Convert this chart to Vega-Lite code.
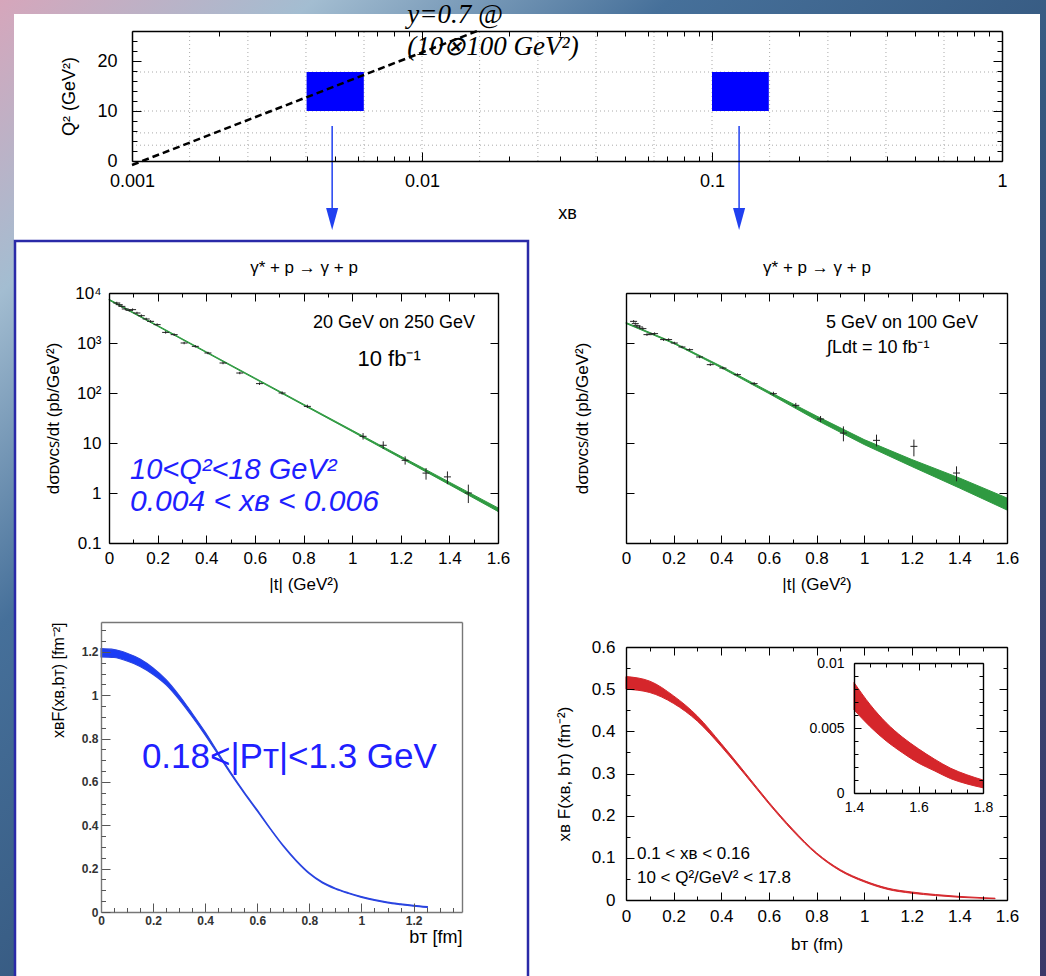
{
"$schema": "https://vega.github.io/schema/vega-lite/v6.json",
"width": 1046, "height": 976, "padding": 0, "autosize": {"type": "none"},
"background": "#3d6088",
"config": {"view": {"stroke": null},
 "axis": {"grid": false, "labelFlush": false, "labelOverlap": false, "labelBound": false,
  "labelFont": "Liberation Sans", "titleFont": "Liberation Sans", "titleFontWeight": "normal",
  "labelColor": "#000", "titleColor": "#000", "domainColor": "#000", "tickColor": "#000",
  "labelFontSize": 17, "titleFontSize": 17, "tickWidth": 1, "domainWidth": 1.4},
 "text": {"font": "Liberation Sans"}},
"datasets": {
 "one": [{}],
 "bg": [{"a": 0, "b": 1}],
 "top_gx": [{"g":0.00158},{"g":0.00251},{"g":0.00398},{"g":0.00631},{"g":0.01},{"g":0.0158},{"g":0.0251},{"g":0.0398},{"g":0.0631},{"g":0.1},{"g":0.158},{"g":0.251},{"g":0.398},{"g":0.631}],
 "top_gy": [{"g":3.16},{"g":5.62},{"g":10},{"g":17.8}],
 "top_bins": [{"x1":0.004,"x2":0.0063,"q1":10,"q2":17.8},{"x1":0.1,"x2":0.157,"q1":10,"q2":17.8}],
 "top_line": [{"xB":0.001,"Q2":-0.8},{"xB":0.0155,"Q2":26}],
 "top_arrows": [{"xB":0.0049},{"xB":0.124}],
 "ul_pts": [
  {"t":0.032,"v":6310,"lo":5960,"hi":6680},{"t":0.042,"v":5850,"lo":5520,"hi":6190},{"t":0.053,"v":5400,"lo":5100,"hi":5720},
  {"t":0.067,"v":4790,"lo":4520,"hi":5070},{"t":0.083,"v":4500,"lo":4250,"hi":4770},{"t":0.097,"v":4650,"lo":4390,"hi":4920},
  {"t":0.115,"v":3980,"lo":3760,"hi":4210},{"t":0.133,"v":3520,"lo":3320,"hi":3730},{"t":0.153,"v":3020,"lo":2850,"hi":3200},
  {"t":0.171,"v":2710,"lo":2560,"hi":2870},{"t":0.198,"v":2330,"lo":2200,"hi":2470},{"t":0.233,"v":1630,"lo":1540,"hi":1730},
  {"t":0.268,"v":1470,"lo":1390,"hi":1560},{"t":0.309,"v":1000,"lo":944,"hi":1060},{"t":0.355,"v":857,"lo":809,"hi":908},
  {"t":0.407,"v":631,"lo":596,"hi":668},{"t":0.469,"v":398,"lo":376,"hi":421},{"t":0.538,"v":251,"lo":237,"hi":266},
  {"t":0.619,"v":154,"lo":145,"hi":163},{"t":0.712,"v":100,"lo":93,"hi":108},{"t":0.816,"v":54,"lo":50,"hi":58.5},
  {"t":1.045,"v":13.6,"lo":11.7,"hi":15.8},{"t":1.128,"v":9.0,"lo":7.6,"hi":10.8},{"t":1.218,"v":4.5,"lo":3.7,"hi":5.4},
  {"t":1.304,"v":2.5,"lo":1.85,"hi":3.16},{"t":1.392,"v":2.1,"lo":1.5,"hi":2.7},{"t":1.478,"v":1.0,"lo":0.63,"hi":1.47}],
 "ul_band": [{"t":0,"lo":7200,"hi":7520},{"t":0.2,"lo":2160,"hi":2240},{"t":0.4,"lo":644,"hi":668},{"t":0.6,"lo":192,"hi":200},
  {"t":0.8,"lo":57.2,"hi":59.8},{"t":1.0,"lo":17.0,"hi":18.0},{"t":1.2,"lo":5.0,"hi":5.43},{"t":1.4,"lo":1.47,"hi":1.65},{"t":1.6,"lo":0.428,"hi":0.504}],
 "ur_pts": [
  {"t":0.032,"v":2710,"lo":2560,"hi":2870},{"t":0.039,"v":2440,"lo":2300,"hi":2580},{"t":0.046,"v":2220,"lo":2100,"hi":2350},
  {"t":0.057,"v":2090,"lo":1970,"hi":2210},{"t":0.071,"v":1940,"lo":1830,"hi":2050},{"t":0.088,"v":1470,"lo":1390,"hi":1560},
  {"t":0.105,"v":1510,"lo":1430,"hi":1600},{"t":0.12,"v":1540,"lo":1450,"hi":1630},{"t":0.158,"v":1170,"lo":1100,"hi":1240},
  {"t":0.179,"v":1170,"lo":1100,"hi":1240},{"t":0.203,"v":1000,"lo":944,"hi":1060},{"t":0.235,"v":832,"lo":785,"hi":881},
  {"t":0.267,"v":736,"lo":695,"hi":779},{"t":0.309,"v":525,"lo":496,"hi":556},{"t":0.354,"v":369,"lo":348,"hi":391},
  {"t":0.407,"v":316,"lo":298,"hi":335},{"t":0.468,"v":233,"lo":220,"hi":247},{"t":0.538,"v":154,"lo":143,"hi":166},
  {"t":0.619,"v":97,"lo":89,"hi":106},{"t":0.713,"v":56.6,"lo":50.5,"hi":63.4},{"t":0.817,"v":30.2,"lo":26.3,"hi":34.7},
  {"t":0.913,"v":15.8,"lo":10.8,"hi":21.5},{"t":1.052,"v":11.3,"lo":8.57,"hi":14.7},{"t":1.209,"v":8.57,"lo":5.41,"hi":11.7},
  {"t":1.388,"v":2.51,"lo":1.71,"hi":3.41}],
 "ur_band": [{"t":0,"lo":2455,"hi":2570},{"t":0.2,"lo":977,"hi":1023},{"t":0.4,"lo":320,"hi":343},{"t":0.6,"lo":97.7,"hi":107},
  {"t":0.8,"lo":28.8,"hi":34.7},{"t":1.0,"lo":9.33,"hi":11.7},{"t":1.2,"lo":3.39,"hi":4.68},{"t":1.4,"lo":1.26,"hi":2.0},{"t":1.6,"lo":0.457,"hi":0.794}],
 "ll_band": [{"b":0,"lo":1.177,"hi":1.215},{"b":0.05,"lo":1.174,"hi":1.211},{"b":0.1,"lo":1.158,"hi":1.194},{"b":0.15,"lo":1.133,"hi":1.167},
  {"b":0.2,"lo":1.096,"hi":1.126},{"b":0.25,"lo":1.048,"hi":1.072},{"b":0.3,"lo":0.98,"hi":1.0},{"b":0.35,"lo":0.901,"hi":0.917},
  {"b":0.4,"lo":0.816,"hi":0.83},{"b":0.45,"lo":0.725,"hi":0.735},{"b":0.5,"lo":0.633,"hi":0.641},{"b":0.55,"lo":0.547,"hi":0.553},
  {"b":0.6,"lo":0.465,"hi":0.471},{"b":0.65,"lo":0.382,"hi":0.386},{"b":0.7,"lo":0.303,"hi":0.307},{"b":0.75,"lo":0.234,"hi":0.238},
  {"b":0.8,"lo":0.176,"hi":0.18},{"b":0.85,"lo":0.134,"hi":0.138},{"b":0.9,"lo":0.106,"hi":0.11},{"b":0.95,"lo":0.085,"hi":0.089},
  {"b":1.0,"lo":0.067,"hi":0.071},{"b":1.05,"lo":0.053,"hi":0.057},{"b":1.1,"lo":0.042,"hi":0.046},{"b":1.15,"lo":0.034,"hi":0.038},
  {"b":1.2,"lo":0.027,"hi":0.031},{"b":1.253,"lo":0.021,"hi":0.025}],
 "lr_band": [{"b":0,"lo":0.5,"hi":0.53},{"b":0.1,"lo":0.492,"hi":0.519},{"b":0.2,"lo":0.466,"hi":0.484},{"b":0.3,"lo":0.424,"hi":0.436},
  {"b":0.4,"lo":0.364,"hi":0.371},{"b":0.5,"lo":0.297,"hi":0.302},{"b":0.6,"lo":0.228,"hi":0.232},{"b":0.7,"lo":0.164,"hi":0.168},
  {"b":0.8,"lo":0.109,"hi":0.112},{"b":0.9,"lo":0.069,"hi":0.072},{"b":1.0,"lo":0.043,"hi":0.046},{"b":1.1,"lo":0.025,"hi":0.028},
  {"b":1.2,"lo":0.016,"hi":0.019},{"b":1.3,"lo":0.0105,"hi":0.013},{"b":1.4,"lo":0.0064,"hi":0.0085},{"b":1.5,"lo":0.004,"hi":0.0054},{"b":1.55,"lo":0.0031,"hi":0.0043}],
 "in_band": [{"b":1.4,"lo":0.0064,"hi":0.0085},{"b":1.45,"lo":0.0051,"hi":0.0068},{"b":1.5,"lo":0.004,"hi":0.0054},{"b":1.55,"lo":0.0031,"hi":0.0043},
  {"b":1.6,"lo":0.0023,"hi":0.0034},{"b":1.65,"lo":0.0017,"hi":0.0026},{"b":1.7,"lo":0.0011,"hi":0.0019},{"b":1.75,"lo":0.0007,"hi":0.0014},{"b":1.8,"lo":0.0004,"hi":0.001}]
},
"resolve": {"scale": {"x": "independent", "y": "independent"}, "axis": {"x": "independent", "y": "independent"}},
"layer": [
 {"data": {"name": "bg"}, "mark": {"type": "rect", "color": {"gradient": "linear", "x1": 0, "y1": 0, "x2": 1, "y2": 1, "stops": [{"offset": 0, "color": "#d6a6bb"}, {"offset": 0.15, "color": "#a3bdd1"}, {"offset": 0.32, "color": "#46709a"}, {"offset": 0.55, "color": "#35587f"}, {"offset": 1, "color": "#3b3868"}]}},
  "encoding": {"x": {"field": "a", "type": "quantitative", "scale": {"domain": [0,1], "range": [0,1046], "nice": false, "zero": false}, "axis": null},
   "x2": {"field": "b"},
   "y": {"field": "a", "type": "quantitative", "scale": {"domain": [0,1], "range": [976,0], "nice": false, "zero": false}, "axis": null},
   "y2": {"field": "b"}}},
 {"data": {"name": "bg"}, "mark": {"type": "rect", "color": "#ffffff"},
  "encoding": {"x": {"field": "a", "type": "quantitative", "scale": {"domain": [0,1], "range": [14,1040], "nice": false, "zero": false}, "axis": null},
   "x2": {"field": "b"},
   "y": {"field": "a", "type": "quantitative", "scale": {"domain": [0,1], "range": [976,14], "nice": false, "zero": false}, "axis": null},
   "y2": {"field": "b"}}},
 {"data": {"name": "bg"}, "mark": {"type": "rect", "filled": false, "stroke": "#2a2aa8", "strokeWidth": 2.5},
  "encoding": {"x": {"field": "a", "type": "quantitative", "scale": {"domain": [0,1], "range": [15,528], "nice": false, "zero": false}, "axis": null},
   "x2": {"field": "b"},
   "y": {"field": "a", "type": "quantitative", "scale": {"domain": [0,1], "range": [978,241], "nice": false, "zero": false}, "axis": null},
   "y2": {"field": "b"}}},

 {"resolve": {"axis": {"x": "independent", "y": "independent"}},
  "layer": [
   {"data": {"name": "top_gx"}, "mark": {"type": "rule", "color": "#aaaaaa", "strokeDash": [1,3], "strokeWidth": 1},
    "encoding": {"x": {"field": "g", "type": "quantitative", "scale": {"type":"log","domain":[0.001,1],"range":[132,1002],"nice":false}, "axis": null},
     "y": {"datum": 0, "type": "quantitative", "scale": {"type":"linear","domain":[0,26],"range":[161,31],"nice":false,"zero":false}, "axis": null},
     "y2": {"datum": 26}}},
   {"data": {"name": "top_gy"}, "mark": {"type": "rule", "color": "#aaaaaa", "strokeDash": [1,3], "strokeWidth": 1},
    "encoding": {"y": {"field": "g", "type": "quantitative", "scale": {"type":"linear","domain":[0,26],"range":[161,31],"nice":false,"zero":false}, "axis": null},
     "x": {"datum": 0.001, "type": "quantitative", "scale": {"type":"log","domain":[0.001,1],"range":[132,1002],"nice":false}, "axis": null},
     "x2": {"datum": 1}}},
   {"data": {"name": "top_bins"}, "mark": {"type": "rect", "color": "#0000ff"},
    "encoding": {"x": {"field": "x1", "type": "quantitative", "scale": {"type":"log","domain":[0.001,1],"range":[132,1002],"nice":false}, "axis": null},
     "x2": {"field": "x2"},
     "y": {"field": "q1", "type": "quantitative", "scale": {"type":"linear","domain":[0,26],"range":[161,31],"nice":false,"zero":false}, "axis": null},
     "y2": {"field": "q2"}}},
   {"data": {"name": "top_line"}, "mark": {"type": "line", "color": "#000000", "strokeDash": [7,4], "strokeWidth": 2.5},
    "encoding": {"x": {"field": "xB", "type": "quantitative", "scale": {"type":"log","domain":[0.001,1],"range":[132,1002],"nice":false}, "axis": null},
     "y": {"field": "Q2", "type": "quantitative", "scale": {"type":"linear","domain":[0,26],"range":[161,31],"nice":false,"zero":false}, "axis": null}}},
   {"data": {"name": "top_arrows"}, "mark": {"type": "rule", "color": "#2040f0", "strokeWidth": 1.5},
    "encoding": {"x": {"field": "xB", "type": "quantitative", "scale": {"type":"log","domain":[0.001,1],"range":[132,1002],"nice":false}, "axis": null},
     "y": {"datum": 7, "type": "quantitative", "scale": {"type":"linear","domain":[0,26],"range":[161,31],"nice":false,"zero":false}, "axis": null},
     "y2": {"datum": -11}}},
   {"data": {"name": "top_arrows"}, "mark": {"type": "point", "shape": "M-0.55,-1L0.55,-1L0,1Z", "size": 484, "filled": true, "color": "#2040f0", "opacity": 1},
    "encoding": {"x": {"field": "xB", "type": "quantitative", "scale": {"type":"log","domain":[0.001,1],"range":[132,1002],"nice":false}, "axis": null},
     "y": {"datum": -11.6, "type": "quantitative", "scale": {"type":"linear","domain":[0,26],"range":[161,31],"nice":false,"zero":false}, "axis": null}}},
   {"data": {"name": "one"}, "mark": {"type": "text", "text": "y=0.7 @", "font": "Liberation Serif", "fontStyle": "italic", "fontSize": 27, "align": "left", "baseline": "middle", "color": "#000"},
    "encoding": {"x": {"datum": 0.0089, "type": "quantitative", "scale": {"type":"log","domain":[0.001,1],"range":[132,1002],"nice":false}, "axis": null},
     "y": {"datum": 29.3, "type": "quantitative", "scale": {"type":"linear","domain":[0,26],"range":[161,31],"nice":false,"zero":false}, "axis": null}}},
   {"data": {"name": "one"}, "mark": {"type": "text", "text": "(10⊗100 GeV²)", "font": "Liberation Serif", "fontStyle": "italic", "fontSize": 27, "align": "left", "baseline": "middle", "color": "#000"},
    "encoding": {"x": {"datum": 0.0089, "type": "quantitative", "scale": {"type":"log","domain":[0.001,1],"range":[132,1002],"nice":false}, "axis": null},
     "y": {"datum": 22.8, "type": "quantitative", "scale": {"type":"linear","domain":[0,26],"range":[161,31],"nice":false,"zero":false}, "axis": null}}},
   {"data": {"name": "one"}, "mark": {"type": "point", "opacity": 0},
    "encoding": {"x": {"datum": 0.001, "type": "quantitative", "scale": {"type":"log","domain":[0.001,1],"range":[132,1002],"nice":false},
      "axis": {"zindex": 1, "orient": "bottom", "offset": -815, "values": [0.001,0.01,0.1,1], "format": "~g", "tickSize": -9, "labelPadding": 20, "labelFontSize": 18, "title": "xʙ", "titleFontSize": 18, "titlePadding": 14, "domainWidth": 1.5}},
     "y": {"datum": 0, "type": "quantitative", "scale": {"type":"linear","domain":[0,26],"range":[161,31],"nice":false,"zero":false},
      "axis": {"zindex": 1, "orient": "left", "offset": -132, "values": [0,10,20], "tickSize": -9, "labelPadding": 24, "labelFontSize": 18, "title": "Q²   (GeV²)", "titleFontSize": 18, "titlePadding": 18, "domainWidth": 1.5}}}},
   {"data": {"name": "one"}, "mark": {"type": "point", "opacity": 0},
    "encoding": {"x": {"datum": 0.001, "type": "quantitative", "scale": {"type":"log","domain":[0.001,1],"range":[132,1002],"nice":false},
      "axis": {"zindex": 1, "orient": "top", "offset": -31, "values": [0.001,0.01,0.1,1], "labels": false, "tickSize": -9, "title": null, "domainWidth": 1.5}},
     "y": {"datum": 0, "type": "quantitative", "scale": {"type":"linear","domain":[0,26],"range":[161,31],"nice":false,"zero":false},
      "axis": {"zindex": 1, "orient": "right", "offset": -44, "values": [0,10,20], "labels": false, "tickSize": -9, "title": null, "domainWidth": 1.5}}}},
   {"data": {"name": "one"}, "mark": {"type": "point", "opacity": 0},
    "encoding": {"x": {"datum": 0.001, "type": "quantitative", "scale": {"type":"log","domain":[0.001,1],"range":[132,1002],"nice":false},
      "axis": {"zindex": 1, "orient": "bottom", "offset": -815, "values": [0.002,0.003,0.004,0.005,0.006,0.007,0.008,0.009,0.02,0.03,0.04,0.05,0.06,0.07,0.08,0.09,0.2,0.3,0.4,0.5,0.6,0.7,0.8,0.9], "labels": false, "domain": false, "tickSize": -5, "title": null}},
     "y": {"datum": 0, "type": "quantitative", "scale": {"type":"linear","domain":[0,26],"range":[161,31],"nice":false,"zero":false},
      "axis": {"zindex": 1, "orient": "left", "offset": -132, "values": [2,4,6,8,12,14,16,18,22,24], "labels": false, "domain": false, "tickSize": -5, "title": null}}}},
   {"data": {"name": "one"}, "mark": {"type": "point", "opacity": 0},
    "encoding": {"x": {"datum": 0.001, "type": "quantitative", "scale": {"type":"log","domain":[0.001,1],"range":[132,1002],"nice":false},
      "axis": {"zindex": 1, "orient": "top", "offset": -31, "values": [0.002,0.003,0.004,0.005,0.006,0.007,0.008,0.009,0.02,0.03,0.04,0.05,0.06,0.07,0.08,0.09,0.2,0.3,0.4,0.5,0.6,0.7,0.8,0.9], "labels": false, "domain": false, "tickSize": -5, "title": null}},
     "y": {"datum": 0, "type": "quantitative", "scale": {"type":"linear","domain":[0,26],"range":[161,31],"nice":false,"zero":false},
      "axis": {"zindex": 1, "orient": "right", "offset": -44, "values": [2,4,6,8,12,14,16,18,22,24], "labels": false, "domain": false, "tickSize": -5, "title": null}}}}
  ]},

 {"resolve": {"axis": {"x": "independent", "y": "independent"}},
  "layer": [
   {"data": {"name": "ul_band"}, "mark": {"type": "area", "color": "#2f9a41", "stroke": "#2f9a41", "strokeWidth": 1, "opacity": 1},
    "encoding": {"x": {"field": "t", "type": "quantitative", "scale": {"type":"linear","domain":[0,1.6],"range":[109,498],"nice":false,"zero":false}, "axis": null},
     "y": {"field": "lo", "type": "quantitative", "scale": {"type":"log","domain":[0.1,10000],"range":[543,293],"nice":false}, "axis": null},
     "y2": {"field": "hi"}}},
   {"data": {"name": "ul_pts"}, "mark": {"type": "rule", "color": "#222222", "strokeWidth": 1},
    "encoding": {"x": {"field": "t", "type": "quantitative", "scale": {"type":"linear","domain":[0,1.6],"range":[109,498],"nice":false,"zero":false}, "axis": null},
     "y": {"field": "lo", "type": "quantitative", "scale": {"type":"log","domain":[0.1,10000],"range":[543,293],"nice":false}, "axis": null},
     "y2": {"field": "hi"}}},
   {"data": {"name": "ul_pts"}, "mark": {"type": "point", "shape": "M-1,0L1,0", "size": 49, "filled": false, "color": "#222222", "strokeWidth": 1, "opacity": 1},
    "encoding": {"x": {"field": "t", "type": "quantitative", "scale": {"type":"linear","domain":[0,1.6],"range":[109,498],"nice":false,"zero":false}, "axis": null},
     "y": {"field": "v", "type": "quantitative", "scale": {"type":"log","domain":[0.1,10000],"range":[543,293],"nice":false}, "axis": null}}},
   {"data": {"name": "one"}, "mark": {"type": "text", "text": "γ* + p → γ + p", "fontSize": 17, "align": "center", "baseline": "middle", "color": "#000"},
    "encoding": {"x": {"datum": 0.802, "type": "quantitative", "scale": {"type":"linear","domain":[0,1.6],"range":[109,498],"nice":false,"zero":false}, "axis": null},
     "y": {"datum": 31623, "type": "quantitative", "scale": {"type":"log","domain":[0.1,10000],"range":[543,293],"nice":false}, "axis": null}}},
   {"data": {"name": "one"}, "mark": {"type": "text", "text": "20 GeV on 250 GeV", "fontSize": 18, "align": "center", "baseline": "middle", "color": "#000"},
    "encoding": {"x": {"datum": 1.172, "type": "quantitative", "scale": {"type":"linear","domain":[0,1.6],"range":[109,498],"nice":false,"zero":false}, "axis": null},
     "y": {"datum": 2512, "type": "quantitative", "scale": {"type":"log","domain":[0.1,10000],"range":[543,293],"nice":false}, "axis": null}}},
   {"data": {"name": "one"}, "mark": {"type": "text", "text": "10 fb⁻¹", "fontSize": 22, "align": "center", "baseline": "middle", "color": "#000"},
    "encoding": {"x": {"datum": 1.152, "type": "quantitative", "scale": {"type":"linear","domain":[0,1.6],"range":[109,498],"nice":false,"zero":false}, "axis": null},
     "y": {"datum": 479, "type": "quantitative", "scale": {"type":"log","domain":[0.1,10000],"range":[543,293],"nice":false}, "axis": null}}},
   {"data": {"name": "one"}, "mark": {"type": "text", "text": "10<Q²<18 GeV²", "fontSize": 29, "fontStyle": "italic", "align": "left", "baseline": "middle", "color": "#1f1fff"},
    "encoding": {"x": {"datum": 0.0864, "type": "quantitative", "scale": {"type":"linear","domain":[0,1.6],"range":[109,498],"nice":false,"zero":false}, "axis": null},
     "y": {"datum": 2.88, "type": "quantitative", "scale": {"type":"log","domain":[0.1,10000],"range":[543,293],"nice":false}, "axis": null}}},
   {"data": {"name": "one"}, "mark": {"type": "text", "text": "0.004 < xʙ < 0.006", "fontSize": 30, "fontStyle": "italic", "align": "left", "baseline": "middle", "color": "#1f1fff"},
    "encoding": {"x": {"datum": 0.0864, "type": "quantitative", "scale": {"type":"linear","domain":[0,1.6],"range":[109,498],"nice":false,"zero":false}, "axis": null},
     "y": {"datum": 0.66, "type": "quantitative", "scale": {"type":"log","domain":[0.1,10000],"range":[543,293],"nice":false}, "axis": null}}},
   {"data": {"name": "one"}, "mark": {"type": "point", "opacity": 0},
    "encoding": {"x": {"datum": 0, "type": "quantitative", "scale": {"type":"linear","domain":[0,1.6],"range":[109,498],"nice":false,"zero":false},
      "axis": {"zindex": 1, "orient": "bottom", "offset": -433, "values": [0,0.2,0.4,0.6,0.8,1,1.2,1.4,1.6], "format": "~g", "tickSize": -8, "labelPadding": 15, "title": "|t| (GeV²)", "titlePadding": 10}},
     "y": {"datum": 0.1, "type": "quantitative", "scale": {"type":"log","domain":[0.1,10000],"range":[543,293],"nice":false},
      "axis": {"zindex": 1, "orient": "left", "offset": -109, "values": [0.1,1,10,100,1000,10000], "labelExpr": "datum.value >= 9999 ? '10⁴' : datum.value >= 999 ? '10³' : datum.value >= 99 ? '10²' : datum.value >= 9 ? '10' : datum.value >= 0.9 ? '1' : '0.1'", "tickSize": -8, "labelPadding": 16, "title": "dσᴅᴠᴄꜱ/dt (pb/GeV²)", "titlePadding": 12}}}},
   {"data": {"name": "one"}, "mark": {"type": "point", "opacity": 0},
    "encoding": {"x": {"datum": 0, "type": "quantitative", "scale": {"type":"linear","domain":[0,1.6],"range":[109,498],"nice":false,"zero":false},
      "axis": {"zindex": 1, "orient": "top", "offset": -293, "values": [0,0.2,0.4,0.6,0.8,1,1.2,1.4,1.6], "labels": false, "tickSize": -8, "title": null}},
     "y": {"datum": 0.1, "type": "quantitative", "scale": {"type":"log","domain":[0.1,10000],"range":[543,293],"nice":false},
      "axis": {"zindex": 1, "orient": "right", "offset": -548, "values": [0.1,1,10,100,1000,10000], "labels": false, "tickSize": -8, "title": null}}}},
   {"data": {"name": "one"}, "mark": {"type": "point", "opacity": 0},
    "encoding": {"x": {"datum": 0, "type": "quantitative", "scale": {"type":"linear","domain":[0,1.6],"range":[109,498],"nice":false,"zero":false},
      "axis": {"zindex": 1, "orient": "bottom", "offset": -433, "values": [0.1,0.3,0.5,0.7,0.9,1.1,1.3,1.5], "labels": false, "domain": false, "tickSize": -4, "title": null}},
     "y": {"datum": 0.1, "type": "quantitative", "scale": {"type":"log","domain":[0.1,10000],"range":[543,293],"nice":false}, "axis": null}}},
   {"data": {"name": "one"}, "mark": {"type": "point", "opacity": 0},
    "encoding": {"x": {"datum": 0, "type": "quantitative", "scale": {"type":"linear","domain":[0,1.6],"range":[109,498],"nice":false,"zero":false},
      "axis": {"zindex": 1, "orient": "top", "offset": -293, "values": [0.1,0.3,0.5,0.7,0.9,1.1,1.3,1.5], "labels": false, "domain": false, "tickSize": -4, "title": null}},
     "y": {"datum": 0.1, "type": "quantitative", "scale": {"type":"log","domain":[0.1,10000],"range":[543,293],"nice":false}, "axis": null}}}
  ]},

 {"resolve": {"axis": {"x": "independent", "y": "independent"}},
  "layer": [
   {"data": {"name": "ur_band"}, "mark": {"type": "area", "color": "#2f9a41", "stroke": "#2f9a41", "strokeWidth": 1, "opacity": 1},
    "encoding": {"x": {"field": "t", "type": "quantitative", "scale": {"type":"linear","domain":[0,1.6],"range":[626,1007],"nice":false,"zero":false}, "axis": null},
     "y": {"field": "lo", "type": "quantitative", "scale": {"type":"log","domain":[0.1,10000],"range":[543,293],"nice":false}, "axis": null},
     "y2": {"field": "hi"}}},
   {"data": {"name": "ur_pts"}, "mark": {"type": "rule", "color": "#222222", "strokeWidth": 1},
    "encoding": {"x": {"field": "t", "type": "quantitative", "scale": {"type":"linear","domain":[0,1.6],"range":[626,1007],"nice":false,"zero":false}, "axis": null},
     "y": {"field": "lo", "type": "quantitative", "scale": {"type":"log","domain":[0.1,10000],"range":[543,293],"nice":false}, "axis": null},
     "y2": {"field": "hi"}}},
   {"data": {"name": "ur_pts"}, "mark": {"type": "point", "shape": "M-1,0L1,0", "size": 49, "filled": false, "color": "#222222", "strokeWidth": 1, "opacity": 1},
    "encoding": {"x": {"field": "t", "type": "quantitative", "scale": {"type":"linear","domain":[0,1.6],"range":[626,1007],"nice":false,"zero":false}, "axis": null},
     "y": {"field": "v", "type": "quantitative", "scale": {"type":"log","domain":[0.1,10000],"range":[543,293],"nice":false}, "axis": null}}},
   {"data": {"name": "one"}, "mark": {"type": "text", "text": "γ* + p → γ + p", "fontSize": 17, "align": "center", "baseline": "middle", "color": "#000"},
    "encoding": {"x": {"datum": 0.802, "type": "quantitative", "scale": {"type":"linear","domain":[0,1.6],"range":[626,1007],"nice":false,"zero":false}, "axis": null},
     "y": {"datum": 31623, "type": "quantitative", "scale": {"type":"log","domain":[0.1,10000],"range":[543,293],"nice":false}, "axis": null}}},
   {"data": {"name": "one"}, "mark": {"type": "text", "text": "5 GeV on 100 GeV", "fontSize": 18, "align": "center", "baseline": "middle", "color": "#000"},
    "encoding": {"x": {"datum": 1.159, "type": "quantitative", "scale": {"type":"linear","domain":[0,1.6],"range":[626,1007],"nice":false,"zero":false}, "axis": null},
     "y": {"datum": 2512, "type": "quantitative", "scale": {"type":"log","domain":[0.1,10000],"range":[543,293],"nice":false}, "axis": null}}},
   {"data": {"name": "one"}, "mark": {"type": "text", "text": "∫Ldt = 10 fb⁻¹", "fontSize": 18, "align": "left", "baseline": "middle", "color": "#000"},
    "encoding": {"x": {"datum": 0.844, "type": "quantitative", "scale": {"type":"linear","domain":[0,1.6],"range":[626,1007],"nice":false,"zero":false}, "axis": null},
     "y": {"datum": 794, "type": "quantitative", "scale": {"type":"log","domain":[0.1,10000],"range":[543,293],"nice":false}, "axis": null}}},
   {"data": {"name": "one"}, "mark": {"type": "point", "opacity": 0},
    "encoding": {"x": {"datum": 0, "type": "quantitative", "scale": {"type":"linear","domain":[0,1.6],"range":[626,1007],"nice":false,"zero":false},
      "axis": {"zindex": 1, "orient": "bottom", "offset": -433, "values": [0,0.2,0.4,0.6,0.8,1,1.2,1.4,1.6], "format": "~g", "tickSize": -8, "labelPadding": 15, "title": "|t| (GeV²)", "titlePadding": 10}},
     "y": {"datum": 0.1, "type": "quantitative", "scale": {"type":"log","domain":[0.1,10000],"range":[543,293],"nice":false},
      "axis": {"zindex": 1, "orient": "left", "offset": -626, "values": [0.1,1,10,100,1000,10000], "labels": false, "tickSize": -8, "title": "dσᴅᴠᴄꜱ/dt (pb/GeV²)", "titlePadding": 34}}}},
   {"data": {"name": "one"}, "mark": {"type": "point", "opacity": 0},
    "encoding": {"x": {"datum": 0, "type": "quantitative", "scale": {"type":"linear","domain":[0,1.6],"range":[626,1007],"nice":false,"zero":false},
      "axis": {"zindex": 1, "orient": "top", "offset": -293, "values": [0,0.2,0.4,0.6,0.8,1,1.2,1.4,1.6], "labels": false, "tickSize": -8, "title": null}},
     "y": {"datum": 0.1, "type": "quantitative", "scale": {"type":"log","domain":[0.1,10000],"range":[543,293],"nice":false},
      "axis": {"zindex": 1, "orient": "right", "offset": -39, "values": [0.1,1,10,100,1000,10000], "labels": false, "tickSize": -8, "title": null}}}},
   {"data": {"name": "one"}, "mark": {"type": "point", "opacity": 0},
    "encoding": {"x": {"datum": 0, "type": "quantitative", "scale": {"type":"linear","domain":[0,1.6],"range":[626,1007],"nice":false,"zero":false},
      "axis": {"zindex": 1, "orient": "bottom", "offset": -433, "values": [0.1,0.3,0.5,0.7,0.9,1.1,1.3,1.5], "labels": false, "domain": false, "tickSize": -4, "title": null}},
     "y": {"datum": 0.1, "type": "quantitative", "scale": {"type":"log","domain":[0.1,10000],"range":[543,293],"nice":false}, "axis": null}}},
   {"data": {"name": "one"}, "mark": {"type": "point", "opacity": 0},
    "encoding": {"x": {"datum": 0, "type": "quantitative", "scale": {"type":"linear","domain":[0,1.6],"range":[626,1007],"nice":false,"zero":false},
      "axis": {"zindex": 1, "orient": "top", "offset": -293, "values": [0.1,0.3,0.5,0.7,0.9,1.1,1.3,1.5], "labels": false, "domain": false, "tickSize": -4, "title": null}},
     "y": {"datum": 0.1, "type": "quantitative", "scale": {"type":"log","domain":[0.1,10000],"range":[543,293],"nice":false}, "axis": null}}}
  ]},

 {"resolve": {"axis": {"x": "independent", "y": "independent"}},
  "layer": [
   {"data": {"name": "ll_band"}, "mark": {"type": "area", "interpolate": "monotone", "color": "#1a3cf5", "stroke": "#2a44e0", "strokeWidth": 1.1, "opacity": 1},
    "encoding": {"x": {"field": "b", "type": "quantitative", "scale": {"type":"linear","domain":[0,1.386],"range":[101,462],"nice":false,"zero":false}, "axis": null},
     "y": {"field": "lo", "type": "quantitative", "scale": {"type":"linear","domain":[0,1.338],"range":[912,622],"nice":false,"zero":false}, "axis": null},
     "y2": {"field": "hi"}}},
   {"data": {"name": "one"}, "mark": {"type": "text", "text": "0.18<|Pᴛ|<1.3 GeV", "fontSize": 35, "align": "left", "baseline": "middle", "color": "#2020ff"},
    "encoding": {"x": {"datum": 0.157, "type": "quantitative", "scale": {"type":"linear","domain":[0,1.386],"range":[101,462],"nice":false,"zero":false}, "axis": null},
     "y": {"datum": 0.715, "type": "quantitative", "scale": {"type":"linear","domain":[0,1.338],"range":[912,622],"nice":false,"zero":false}, "axis": null}}},
   {"data": {"name": "one"}, "mark": {"type": "point", "opacity": 0},
    "encoding": {"x": {"datum": 0, "type": "quantitative", "scale": {"type":"linear","domain":[0,1.386],"range":[101,462],"nice":false,"zero":false},
      "axis": {"zindex": 1, "orient": "bottom", "offset": -64, "values": [0,0.2,0.4,0.6,0.8,1,1.2], "format": "~g", "tickSize": -9, "labelPadding": 12, "labelFontSize": 12, "labelFontWeight": "bold", "labelColor": "#333333", "domainColor": "#777777", "tickColor": "#555555", "title": "bᴛ [fm]", "titleAnchor": "end", "titleFontSize": 18, "titlePadding": 2}},
     "y": {"datum": 0, "type": "quantitative", "scale": {"type":"linear","domain":[0,1.338],"range":[912,622],"nice":false,"zero":false},
      "axis": {"zindex": 1, "orient": "left", "offset": -101, "values": [0,0.2,0.4,0.6,0.8,1,1.2], "format": "~g", "tickSize": -9, "labelPadding": 12, "labelFontSize": 12, "labelFontWeight": "bold", "labelColor": "#333333", "domainColor": "#777777", "tickColor": "#555555", "title": "xʙF(xʙ,bᴛ) [fm⁻²]", "titleAnchor": "end", "titleFontSize": 16, "titlePadding": 15}}}},
   {"data": {"name": "one"}, "mark": {"type": "point", "opacity": 0},
    "encoding": {"x": {"datum": 0, "type": "quantitative", "scale": {"type":"linear","domain":[0,1.386],"range":[101,462],"nice":false,"zero":false},
      "axis": {"zindex": 1, "orient": "top", "offset": -622, "ticks": false, "labels": false, "domainColor": "#777777", "title": null}},
     "y": {"datum": 0, "type": "quantitative", "scale": {"type":"linear","domain":[0,1.338],"range":[912,622],"nice":false,"zero":false},
      "axis": {"zindex": 1, "orient": "right", "offset": -584, "ticks": false, "labels": false, "domainColor": "#777777", "title": null}}}},
   {"data": {"name": "one"}, "mark": {"type": "point", "opacity": 0},
    "encoding": {"x": {"datum": 0, "type": "quantitative", "scale": {"type":"linear","domain":[0,1.386],"range":[101,462],"nice":false,"zero":false},
      "axis": {"zindex": 1, "orient": "bottom", "offset": -64, "values": [0.05,0.1,0.15,0.25,0.3,0.35,0.45,0.5,0.55,0.65,0.7,0.75,0.85,0.9,0.95,1.05,1.1,1.15,1.25,1.3,1.35], "labels": false, "domain": false, "tickSize": -4.5, "tickColor": "#555555", "title": null}},
     "y": {"datum": 0, "type": "quantitative", "scale": {"type":"linear","domain":[0,1.338],"range":[912,622],"nice":false,"zero":false},
      "axis": {"zindex": 1, "orient": "left", "offset": -101, "values": [0.05,0.1,0.15,0.25,0.3,0.35,0.45,0.5,0.55,0.65,0.7,0.75,0.85,0.9,0.95,1.05,1.1,1.15,1.25,1.3], "labels": false, "domain": false, "tickSize": -4.5, "tickColor": "#555555", "title": null}}}}
  ]},

 {"resolve": {"axis": {"x": "independent", "y": "independent"}},
  "layer": [
   {"data": {"name": "lr_band"}, "mark": {"type": "area", "interpolate": "monotone", "color": "#d5262b", "stroke": "#d5262b", "strokeWidth": 1, "opacity": 1},
    "encoding": {"x": {"field": "b", "type": "quantitative", "scale": {"type":"linear","domain":[0,1.6],"range":[626,1007],"nice":false,"zero":false}, "axis": null},
     "y": {"field": "lo", "type": "quantitative", "scale": {"type":"linear","domain":[0,0.6],"range":[900,647],"nice":false,"zero":false}, "axis": null},
     "y2": {"field": "hi"}}},
   {"data": {"name": "one"}, "mark": {"type": "text", "text": "0.1 < xʙ < 0.16", "fontSize": 17, "align": "left", "baseline": "middle", "color": "#000"},
    "encoding": {"x": {"datum": 0.046, "type": "quantitative", "scale": {"type":"linear","domain":[0,1.6],"range":[626,1007],"nice":false,"zero":false}, "axis": null},
     "y": {"datum": 0.109, "type": "quantitative", "scale": {"type":"linear","domain":[0,0.6],"range":[900,647],"nice":false,"zero":false}, "axis": null}}},
   {"data": {"name": "one"}, "mark": {"type": "text", "text": "10 < Q²/GeV² < 17.8", "fontSize": 17, "align": "left", "baseline": "middle", "color": "#000"},
    "encoding": {"x": {"datum": 0.046, "type": "quantitative", "scale": {"type":"linear","domain":[0,1.6],"range":[626,1007],"nice":false,"zero":false}, "axis": null},
     "y": {"datum": 0.052, "type": "quantitative", "scale": {"type":"linear","domain":[0,0.6],"range":[900,647],"nice":false,"zero":false}, "axis": null}}},
   {"data": {"name": "one"}, "mark": {"type": "point", "opacity": 0},
    "encoding": {"x": {"datum": 0, "type": "quantitative", "scale": {"type":"linear","domain":[0,1.6],"range":[626,1007],"nice":false,"zero":false},
      "axis": {"zindex": 1, "orient": "bottom", "offset": -76, "values": [0,0.2,0.4,0.6,0.8,1,1.2,1.4,1.6], "format": "~g", "tickSize": -8, "labelPadding": 16, "title": "bᴛ (fm)", "titlePadding": 12}},
     "y": {"datum": 0, "type": "quantitative", "scale": {"type":"linear","domain":[0,0.6],"range":[900,647],"nice":false,"zero":false},
      "axis": {"zindex": 1, "orient": "left", "offset": -626, "values": [0,0.1,0.2,0.3,0.4,0.5,0.6], "format": "~g", "tickSize": -8, "labelPadding": 19, "title": "xʙ F(xʙ, bᴛ) (fm⁻²)", "titlePadding": 18}}}},
   {"data": {"name": "one"}, "mark": {"type": "point", "opacity": 0},
    "encoding": {"x": {"datum": 0, "type": "quantitative", "scale": {"type":"linear","domain":[0,1.6],"range":[626,1007],"nice":false,"zero":false},
      "axis": {"zindex": 1, "orient": "top", "offset": -647, "values": [0,0.2,0.4,0.6,0.8,1,1.2,1.4,1.6], "labels": false, "tickSize": -8, "title": null}},
     "y": {"datum": 0, "type": "quantitative", "scale": {"type":"linear","domain":[0,0.6],"range":[900,647],"nice":false,"zero":false},
      "axis": {"zindex": 1, "orient": "right", "offset": -39, "values": [0,0.1,0.2,0.3,0.4,0.5,0.6], "labels": false, "tickSize": -8, "title": null}}}},
   {"data": {"name": "one"}, "mark": {"type": "point", "opacity": 0},
    "encoding": {"x": {"datum": 0, "type": "quantitative", "scale": {"type":"linear","domain":[0,1.6],"range":[626,1007],"nice":false,"zero":false},
      "axis": {"zindex": 1, "orient": "bottom", "offset": -76, "values": [0.1,0.3,0.5,0.7,0.9,1.1,1.3,1.5], "labels": false, "domain": false, "tickSize": -4, "title": null}},
     "y": {"datum": 0, "type": "quantitative", "scale": {"type":"linear","domain":[0,0.6],"range":[900,647],"nice":false,"zero":false},
      "axis": {"zindex": 1, "orient": "left", "offset": -626, "values": [0.05,0.15,0.25,0.35,0.45,0.55], "labels": false, "domain": false, "tickSize": -4, "title": null}}}},
   {"data": {"name": "one"}, "mark": {"type": "point", "opacity": 0},
    "encoding": {"x": {"datum": 0, "type": "quantitative", "scale": {"type":"linear","domain":[0,1.6],"range":[626,1007],"nice":false,"zero":false},
      "axis": {"zindex": 1, "orient": "top", "offset": -647, "values": [0.1,0.3,0.5,0.7,0.9,1.1,1.3,1.5], "labels": false, "domain": false, "tickSize": -4, "title": null}},
     "y": {"datum": 0, "type": "quantitative", "scale": {"type":"linear","domain":[0,0.6],"range":[900,647],"nice":false,"zero":false},
      "axis": {"zindex": 1, "orient": "right", "offset": -39, "values": [0.05,0.15,0.25,0.35,0.45,0.55], "labels": false, "domain": false, "tickSize": -4, "title": null}}}}
  ]},

 {"resolve": {"axis": {"x": "independent", "y": "independent"}},
  "layer": [
   {"data": {"name": "in_band"}, "mark": {"type": "area", "interpolate": "monotone", "color": "#d5262b", "stroke": "#d5262b", "strokeWidth": 1, "opacity": 1},
    "encoding": {"x": {"field": "b", "type": "quantitative", "scale": {"type":"linear","domain":[1.4,1.8],"range":[854,983],"nice":false,"zero":false}, "axis": null},
     "y": {"field": "lo", "type": "quantitative", "scale": {"type":"linear","domain":[0,0.01],"range":[793,663],"nice":false,"zero":false}, "axis": null},
     "y2": {"field": "hi"}}},
   {"data": {"name": "one"}, "mark": {"type": "point", "opacity": 0},
    "encoding": {"x": {"datum": 1.4, "type": "quantitative", "scale": {"type":"linear","domain":[1.4,1.8],"range":[854,983],"nice":false,"zero":false},
      "axis": {"zindex": 1, "orient": "bottom", "offset": -183, "values": [1.4,1.6,1.8], "format": "~g", "tickSize": -7, "labelPadding": 14, "labelFontSize": 14, "title": null}},
     "y": {"datum": 0, "type": "quantitative", "scale": {"type":"linear","domain":[0,0.01],"range":[793,663],"nice":false,"zero":false},
      "axis": {"zindex": 1, "orient": "left", "offset": -854, "values": [0,0.005,0.01], "format": "~g", "tickSize": -7, "labelPadding": 17, "labelFontSize": 14, "title": null}}}},
   {"data": {"name": "one"}, "mark": {"type": "point", "opacity": 0},
    "encoding": {"x": {"datum": 1.4, "type": "quantitative", "scale": {"type":"linear","domain":[1.4,1.8],"range":[854,983],"nice":false,"zero":false},
      "axis": {"zindex": 1, "orient": "top", "offset": -663, "values": [1.4,1.6,1.8], "labels": false, "tickSize": -7, "title": null}},
     "y": {"datum": 0, "type": "quantitative", "scale": {"type":"linear","domain":[0,0.01],"range":[793,663],"nice":false,"zero":false},
      "axis": {"zindex": 1, "orient": "right", "offset": -63, "values": [0,0.005,0.01], "labels": false, "tickSize": -7, "title": null}}}},
   {"data": {"name": "one"}, "mark": {"type": "point", "opacity": 0},
    "encoding": {"x": {"datum": 1.4, "type": "quantitative", "scale": {"type":"linear","domain":[1.4,1.8],"range":[854,983],"nice":false,"zero":false},
      "axis": {"zindex": 1, "orient": "bottom", "offset": -183, "values": [1.45,1.5,1.55,1.65,1.7,1.75], "labels": false, "domain": false, "tickSize": -4, "title": null}},
     "y": {"datum": 0, "type": "quantitative", "scale": {"type":"linear","domain":[0,0.01],"range":[793,663],"nice":false,"zero":false},
      "axis": {"zindex": 1, "orient": "left", "offset": -854, "values": [0.001,0.002,0.003,0.004,0.006,0.007,0.008,0.009], "labels": false, "domain": false, "tickSize": -4, "title": null}}}},
   {"data": {"name": "one"}, "mark": {"type": "point", "opacity": 0},
    "encoding": {"x": {"datum": 1.4, "type": "quantitative", "scale": {"type":"linear","domain":[1.4,1.8],"range":[854,983],"nice":false,"zero":false},
      "axis": {"zindex": 1, "orient": "top", "offset": -663, "values": [1.45,1.5,1.55,1.65,1.7,1.75], "labels": false, "domain": false, "tickSize": -4, "title": null}},
     "y": {"datum": 0, "type": "quantitative", "scale": {"type":"linear","domain":[0,0.01],"range":[793,663],"nice":false,"zero":false},
      "axis": {"zindex": 1, "orient": "right", "offset": -63, "values": [0.001,0.002,0.003,0.004,0.006,0.007,0.008,0.009], "labels": false, "domain": false, "tickSize": -4, "title": null}}}}
  ]}
]
}
